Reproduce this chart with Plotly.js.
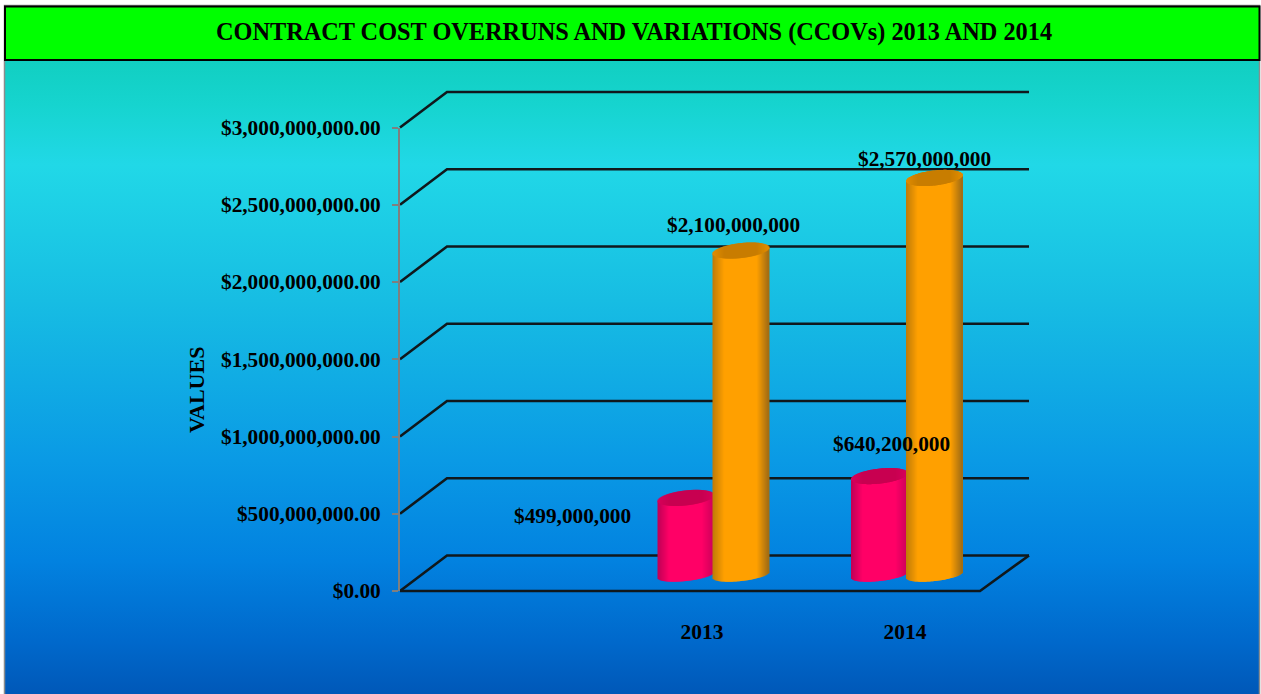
<!DOCTYPE html>
<html>
<head>
<meta charset="utf-8">
<script src="https://cdn.plot.ly/plotly-3.0.1.min.js"></script>
<style>
  html, body { margin: 0; padding: 0; background: #fff; overflow: hidden; }
  #backdrop {
    position: absolute; left: 5px; top: 60px; width: 1255px; height: 634px;
    background: linear-gradient(180deg, #11cfc1 0px, #16d4cf 45px, #21d8e7 105px, #17bde3 240px, #0a9ae5 400px, #0282e0 500px, #0069cc 580px, #0058b8 634px);
  }
  #chart { position: absolute; left: 0; top: 0; width: 1261px; height: 694px; }
</style>
</head>
<body>
<div id="backdrop"></div>
<div id="chart"></div>
<script>
// Values per year, one array per cylinder series
const categories = ['2013', '2014'];
const redValues = [499000000, 640200000];
const orangeValues = [2100000000, 2570000000];
const redLabels = ['$499,000,000', '$640,200,000'];
const orangeLabels = ['$2,100,000,000', '$2,570,000,000'];
const yTicks = [0, 500000000, 1000000000, 1500000000, 2000000000, 2500000000, 3000000000];

const chartTitle = 'CONTRACT COST OVERRUNS AND VARIATIONS (CCOVs) 2013 AND 2014';
const yTitle = 'VALUES';

// Plot geometry of the front plane
const W = 1261, H = 694;
const frontLeft = 400, frontRight = 980, frontTop = 127.5, frontBottom = 591;
const xMin = -0.5, xMax = 2.5, yMax = 3000000000;
const unitsPerPxX = (xMax - xMin) / (frontRight - frontLeft);
const unitsPerPxY = yMax / (frontBottom - frontTop);
const dxPx = v => v * unitsPerPxX;
const dyPx = v => v * unitsPerPxY;

// Oblique depth of the walls and of the row holding the cylinders
const wallDX = dxPx(47), wallDY = dyPx(35.5);
const rowDY = dyPx(16);
const wallRight = xMin + dxPx(1029 - frontLeft);

// The wall and floor lines live on a full-figure subplot sharing the same scale
const gridX = [], gridY = [];
yTicks.forEach(v => {
  gridX.push(xMin, xMin + wallDX, wallRight, null);
  gridY.push(v, v + wallDY, v + wallDY, null);
});
gridX.push(xMin, xMax, wallRight, null);
gridY.push(0, 0, wallDY, null);

const font = (size) => ({ family: '"Liberation Serif", serif', size, color: '#000', weight: 700 });

function mix(a, b, t) {
  const c = a.map((v, i) => Math.round(v + (b[i] - v) * t));
  return `rgb(${c[0]},${c[1]},${c[2]})`;
}

// A cylinder is a run of narrow overlapping columns: shaded side plus a darker elliptical cap
function cylinderTraces(values, centersPx, palette, name) {
  const half = 28, capB = 7.5, footB = 6, tilt = 3;
  const side = { x: [], base: [], y: [], c: [] };
  const cap = { x: [], base: [], y: [], c: [] };
  values.forEach((value, i) => {
    for (let px = -half + 0.5; px < half; px += 1) {
      const u = px / half;
      const round = Math.sqrt(1 - u * u);
      const h = capB * round;
      const shear = -tilt * u;
      const x = xMin + dxPx(centersPx[i] + px - frontLeft);
      const bottom = rowDY - dyPx(footB * round + shear);
      const mid = rowDY + value - dyPx(shear);
      const edge = Math.min(1, (1 - Math.abs(u)) / 0.42);
      const darkEnd = u > 0 ? palette.edgeR : palette.edgeL;
      side.x.push(x); side.base.push(bottom); side.y.push(mid - bottom);
      side.c.push(mix(darkEnd, palette.center, edge));
      cap.x.push(x); cap.base.push(mid - dyPx(h)); cap.y.push(dyPx(2 * h));
      cap.c.push(mix(palette.capEdge, palette.cap, edge));
    }
  });
  const toTrace = (s, label) => ({
    type: 'bar', name: label, xaxis: 'x2', yaxis: 'y2',
    x: s.x, base: s.base, y: s.y, width: dxPx(2),
    marker: { color: s.c, opacity: 1, line: { width: 0 } },
    cliponaxis: false, hoverinfo: 'skip', showlegend: false
  });
  return [toTrace(side, name + ' side'), toTrace(cap, name + ' cap')];
}

const redPalette = { center: [255, 0, 102], edgeL: [190, 0, 85], edgeR: [205, 0, 90], cap: [200, 0, 80], capEdge: [215, 0, 90] };
const orangePalette = { center: [255, 160, 0], edgeL: [190, 122, 8], edgeR: [160, 108, 20], cap: [200, 125, 0], capEdge: [225, 140, 0] };

const traces = [
  {
    type: 'scatter', mode: 'lines', x: gridX, y: gridY, connectgaps: false,
    line: { color: '#10181c', width: 2.6 }, hoverinfo: 'skip', showlegend: false
  },
  ...cylinderTraces(redValues, [686, 879.5], redPalette, 'red'),
  ...cylinderTraces(orangeValues, [741, 934.5], orangePalette, 'orange')
];

// Value labels sit at the cylinder tops with an individual offset
const valueLabel = (text, centerPx, value, xshift, yshift) => ({
  text, xref: 'x2', yref: 'y2', x: xMin + dxPx(centerPx - frontLeft), y: rowDY + value,
  xshift, yshift, showarrow: false, font: font(21.3)
});

const layout = {
  width: W, height: H,
  margin: { l: 0, r: 0, t: 0, b: 0 },
  paper_bgcolor: 'rgba(0,0,0,0)', plot_bgcolor: 'rgba(0,0,0,0)',
  barmode: 'overlay', showlegend: false,
  title: {
    text: chartTitle, font: font(24.3), x: 634 / W, xanchor: 'center',
    y: 1 - 31.5 / H, yanchor: 'middle'
  },
  xaxis: {
    domain: [0, 1], range: [xMin - dxPx(frontLeft), xMin + dxPx(W - frontLeft)],
    visible: false, fixedrange: true
  },
  yaxis: {
    domain: [0, 1], range: [-dyPx(H - frontBottom), dyPx(frontBottom)],
    visible: false, fixedrange: true
  },
  xaxis2: {
    anchor: 'y2',
    domain: [frontLeft / W, frontRight / W], range: [xMin, xMax],
    tickmode: 'array', tickvals: [1.062, 2.112], ticktext: categories,
    ticks: '', showgrid: false, zeroline: false, showline: false,
    tickfont: font(21.5), ticklabelstandoff: 25
  },
  yaxis2: {
    anchor: 'x2',
    domain: [(H - frontBottom) / H, (H - frontTop) / H], range: [0, yMax],
    tickmode: 'array', tickvals: yTicks, tickformat: '$,.2f',
    ticks: 'outside', ticklen: 6, tickwidth: 2, tickcolor: '#7f7f7f',
    showline: true, linecolor: '#7f7f7f', linewidth: 2,
    showgrid: false, zeroline: false,
    tickfont: font(21.3), ticklabelstandoff: 7
  },
  shapes: [
    {
      type: 'rect', xref: 'paper', yref: 'paper', layer: 'below',
      x0: 4.5 / W, x1: 1259.5 / W, y0: -0.1, y1: 1 - 5.5 / H,
      line: { color: '#8c8c8c', width: 1.5 }, fillcolor: 'rgba(0,0,0,0)'
    },
    {
      type: 'rect', xref: 'paper', yref: 'paper', layer: 'below',
      x0: 5 / W, x1: 1259.5 / W, y0: 1 - 60 / H, y1: 1 - 6.5 / H,
      line: { color: '#000', width: 2 }, fillcolor: '#00ff00'
    }
  ],
  annotations: [
    {
      text: yTitle, xref: 'paper', yref: 'paper', x: 196 / W, y: 1 - 390 / H,
      xanchor: 'center', yanchor: 'middle',
      textangle: -90, showarrow: false, font: font(22)
    },
    valueLabel(redLabels[0], 686, redValues[0], -114, -18),
    valueLabel(redLabels[1], 879.5, redValues[1], 12, 32),
    valueLabel(orangeLabels[0], 741, orangeValues[0], -8, 26),
    valueLabel(orangeLabels[1], 934.5, orangeValues[1], -10, 19)
  ]
};

Plotly.newPlot('chart', traces, layout, { displayModeBar: false, staticPlot: true });
</script>
</body>
</html>
